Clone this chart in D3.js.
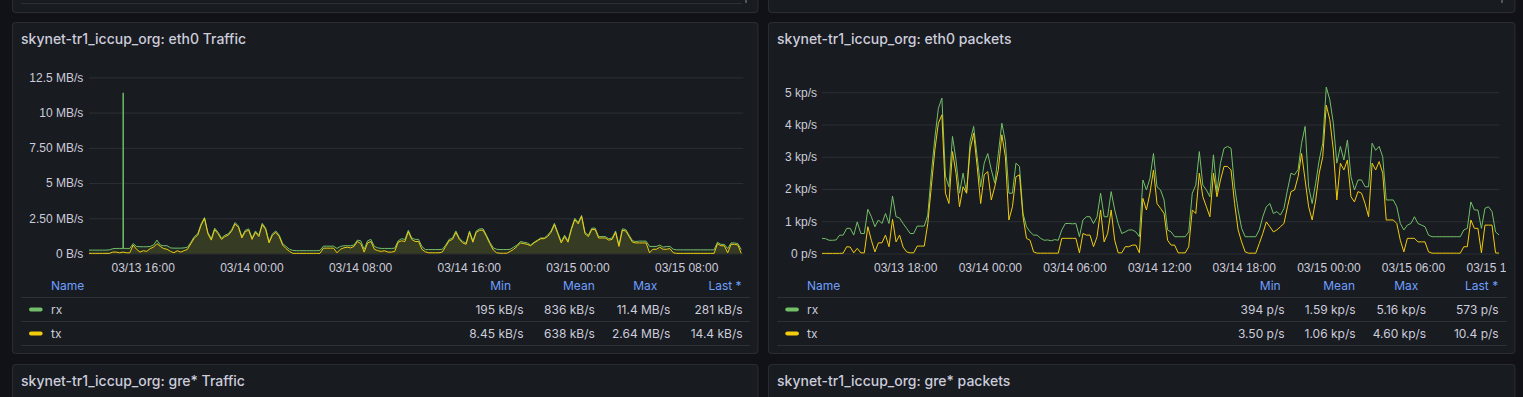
<!DOCTYPE html>
<html><head><meta charset="utf-8">
<script src="https://cdn.jsdelivr.net/npm/d3@7"></script>
<style>
html,body{margin:0;padding:0;background:#111217;overflow:hidden;}
svg{display:block;font-family:Inter,"Noto Sans",sans-serif;}
</style></head><body>
<svg id="c" width="1523" height="397"></svg>
<script>
// ---------------- DATA ----------------
const STEP_MIN = 15;
const trafficStart = "2024-03-13T12:03:00Z";
const packetsStart = "2024-03-13T12:06:00Z";
const trafficDomain = ["2024-03-13T12:03:00Z", "2024-03-15T12:12:00Z"];
const packetsDomain = ["2024-03-13T12:06:00Z", "2024-03-15T12:07:00Z"];

// eth0 Traffic, MB/s, one value every 15 minutes
const trafficRx = [
0.24,0.24,0.24,0.24,0.24,0.24,0.26,0.34,0.36,0.36,
0.36,0.36,0.36,0.7,0.5,0.48,0.48,0.48,0.5,0.6,
0.95,0.6,0.55,0.55,0.4,0.38,0.38,0.38,0.4,0.45,
0.8,1.2,1.4,2.1,2.55,1.5,1.05,1.8,1.5,1.1,
1.3,1.4,1.7,2.2,1.95,1.2,1.65,1.75,1.1,1.6,
1.3,2.14,1.8,0.85,1.4,1.6,1.3,0.7,0.5,0.3,
0.22,0.2,0.2,0.2,0.2,0.2,0.2,0.2,0.22,0.52,
0.52,0.52,0.52,0.36,0.5,0.55,0.55,0.55,0.6,0.95,
0.9,0.3,0.9,1.0,0.5,0.4,0.36,0.36,0.36,0.36,
0.38,0.9,1.05,1.0,1.65,1.1,1.0,1.0,0.5,0.28,
0.28,0.28,0.28,0.28,0.3,0.6,1.0,1.1,1.6,1.1,
0.85,0.75,1.6,0.9,1.6,1.75,1.75,1.3,0.8,0.4,
0.3,0.28,0.28,0.28,0.3,0.45,0.6,0.85,0.8,0.75,
0.6,0.8,0.95,1.1,1.1,1.3,1.6,2.14,1.5,0.85,
1.3,0.9,1.8,2.5,2.2,2.7,1.5,1.3,1.8,1.8,
1.2,1.2,1.2,1.05,1.1,1.6,0.6,1.75,1.7,1.3,
0.9,0.85,0.88,0.88,0.88,0.5,0.5,0.5,0.6,0.45,
0.5,0.5,0.3,0.26,0.26,0.26,0.26,0.26,0.26,0.26,
0.26,0.26,0.26,0.26,0.26,0.8,0.65,0.65,0.35,0.75,
0.75,0.7,0.281];
// short burst on rx: [minutes after start, MB/s]
const trafficRxBurst = [[151, 11.4], [152, 0.36]];
const trafficTx = [
0.01,0.01,0.01,0.01,0.01,0.01,0.01,0.1,0.1,0.05,
0.1,0.05,0.05,0.6,0.3,0.1,0.2,0.15,0.35,0.45,
0.7,0.5,0.35,0.3,0.15,0.05,0.2,0.1,0.2,0.3,
0.7,1.1,1.3,2.0,2.5,1.4,0.95,1.7,1.4,1.0,
1.2,1.3,1.6,2.1,1.85,1.1,1.55,1.65,1.0,1.5,
1.2,2.05,1.7,0.75,1.3,1.5,1.2,0.6,0.35,0.15,
0.01,0.01,0.01,0.01,0.01,0.01,0.01,0.01,0.01,0.38,
0.38,0.38,0.38,0.05,0.3,0.4,0.45,0.4,0.5,0.85,
0.7,0.1,0.75,0.85,0.3,0.2,0.15,0.2,0.1,0.1,
0.15,0.8,0.9,0.85,1.55,1.0,0.85,0.85,0.3,0.12,
0.05,0.05,0.05,0.05,0.1,0.5,0.9,1.0,1.5,1.0,
0.75,0.65,1.5,0.8,1.5,1.65,1.65,1.2,0.7,0.25,
0.05,0.02,0.02,0.02,0.15,0.3,0.5,0.75,0.7,0.65,
0.55,0.75,0.9,1.05,1.05,1.2,1.5,2.05,1.4,0.75,
1.2,0.8,1.7,2.4,2.1,2.64,1.4,1.2,1.7,1.7,
1.1,1.1,1.1,0.95,1.0,1.5,0.5,1.65,1.6,1.2,
0.8,0.75,0.75,0.75,0.75,0.05,0.3,0.3,0.45,0.3,
0.3,0.35,0.05,0.01,0.01,0.01,0.01,0.01,0.01,0.01,
0.01,0.01,0.01,0.01,0.01,0.7,0.55,0.55,0.05,0.65,
0.65,0.6,0.0144];

// eth0 packets, kp/s, one value every 15 minutes
const packetsRx = [
0.47,0.46,0.41,0.41,0.42,0.57,0.57,0.78,0.78,0.57,
0.98,0.62,0.62,1.37,1.14,0.83,1.04,0.93,1.24,0.93,
1.78,1.14,1.1,0.93,0.78,0.62,0.62,0.85,0.85,0.85,
1.19,2.49,3.58,4.5,4.82,2.4,2.07,3.63,2.9,1.87,
2.49,1.87,3.47,3.94,3.0,2.07,2.8,3.1,2.6,2.18,
3.1,4.04,3.47,1.87,1.87,2.8,2.7,1.24,0.83,0.67,
0.57,0.57,0.47,0.41,0.42,0.394,0.43,0.41,0.73,0.93,
0.93,0.92,0.93,0.52,1.04,1.14,1.14,0.93,1.14,1.87,
1.14,1.14,1.92,1.35,0.93,0.62,0.67,0.73,0.73,0.67,
0.52,2.28,1.97,2.33,3.1,2.07,1.97,1.66,0.73,0.67,
0.52,0.52,0.52,0.52,0.67,1.87,2.12,3.16,2.12,1.97,
1.76,3.06,1.92,2.8,3.26,3.32,3.26,2.07,1.35,0.78,
0.52,0.52,0.52,0.52,0.73,1.14,1.45,1.55,1.24,1.3,
1.19,1.4,1.97,2.49,2.44,2.6,3.42,3.94,2.07,1.55,
2.18,2.9,3.42,5.16,4.77,4.04,2.8,3.32,2.9,3.52,
2.38,1.97,2.28,2.28,2.07,2.07,3.42,3.2,3.32,3.0,
1.66,1.66,1.66,1.45,0.93,0.73,0.88,0.93,1.14,0.93,
0.88,0.83,0.57,0.52,0.52,0.52,0.52,0.52,0.52,0.52,
0.52,0.52,0.73,0.78,1.6,1.35,1.35,0.78,1.4,1.45,
1.3,0.67,0.573];
const packetsTx = [
0.004,0.004,0.004,0.004,0.004,0.004,0.01,0.21,0.2,0.02,
0.16,0.02,0.02,0.83,0.41,0.05,0.33,0.33,0.57,0.21,
1.06,0.36,0.57,0.2,0.05,0.02,0.02,0.23,0.23,0.23,
0.93,2.07,3.21,4.04,4.3,1.87,1.55,3.16,2.49,1.45,
2.07,1.87,3.21,3.73,2.7,1.55,2.44,2.54,1.66,2.07,
2.6,3.68,3.0,1.04,1.45,2.38,2.44,1.14,0.47,0.41,
0.05,0.01,0.01,0.01,0.01,0.01,0.01,0.01,0.47,0.47,
0.47,0.47,0.47,0.02,0.62,0.57,0.57,0.21,0.52,1.35,
0.36,0.62,1.35,0.41,0.02,0.02,0.21,0.21,0.26,0.26,
0.02,1.71,1.35,1.87,2.59,1.55,1.4,1.24,0.41,0.26,
0.26,0.02,0.02,0.02,0.21,1.35,1.24,2.49,1.76,1.45,
1.14,2.49,1.76,2.28,2.7,2.7,2.59,1.55,0.73,0.36,
0.05,0.01,0.01,0.01,0.31,0.62,0.98,0.83,0.67,0.73,
0.83,0.93,1.45,1.92,1.97,2.38,3.1,2.28,1.45,1.04,
1.66,2.49,3.0,4.6,4.15,3.21,1.66,2.8,2.59,2.9,
1.76,1.6,1.92,1.87,1.55,1.14,2.8,2.59,2.85,2.49,
1.04,1.04,1.04,0.93,0.41,0.05,0.47,0.47,0.47,0.36,
0.36,0.36,0.05,0.01,0.01,0.01,0.01,0.01,0.01,0.01,
0.01,0.01,0.21,0.21,1.04,0.78,0.78,0.02,0.88,0.88,
0.88,0.02,0.0104];

// axis ticks
const trafficYTicks = [0, 2.5, 5, 7.5, 10, 12.5];
const trafficYLabels = ["0 B/s", "2.50 MB/s", "5 MB/s", "7.50 MB/s", "10 MB/s", "12.5 MB/s"];
const packetsYTicks = [0, 1, 2, 3, 4, 5];
const packetsYLabels = ["0 p/s", "1 kp/s", "2 kp/s", "3 kp/s", "4 kp/s", "5 kp/s"];

// legend
const seriesNames = ["rx", "tx"];
const statHeaders = ["Min", "Mean", "Max", "Last *"];
const trafficStatsRx = ["195 kB/s", "836 kB/s", "11.4 MB/s", "281 kB/s"];
const trafficStatsTx = ["8.45 kB/s", "638 kB/s", "2.64 MB/s", "14.4 kB/s"];
const packetsStatsRx = ["394 p/s", "1.59 kp/s", "5.16 kp/s", "573 p/s"];
const packetsStatsTx = ["3.50 p/s", "1.06 kp/s", "4.60 kp/s", "10.4 p/s"];

const titles = ["skynet-tr1_iccup_org: eth0 Traffic", "skynet-tr1_iccup_org: eth0 packets",
                "skynet-tr1_iccup_org: gre* Traffic", "skynet-tr1_iccup_org: gre* packets"];

// ---------------- DRAW ----------------
const W = 1523, H = 397;
const C = {bg:"#111217", panel:"#181b1f", border:"rgba(204,204,220,0.12)", grid:"rgba(240,250,255,0.09)",
           text:"#ccccdc", link:"#6e9fff", rx:"#73bf69", tx:"#f2cc0c"};
const svg = d3.select("#c");
const defs = svg.append("defs");
svg.append("rect").attr("width", W).attr("height", H).attr("fill", C.bg);

function panel(x, y, w, h) {
  svg.append("rect").attr("x", x).attr("y", y).attr("width", w).attr("height", h).attr("rx", 3)
    .attr("fill", C.panel).attr("stroke", C.border);
}
panel(12.5, -30, 745.5, 42.5);
panel(768.5, -30, 746.5, 42.5);
panel(12.5, 22.5, 745.5, 331);
panel(768.5, 22.5, 746.5, 331);
panel(12.5, 364.5, 745.5, 60);
panel(768.5, 364.5, 746.5, 60);
// remnants of the panels above (legend separator, scrollbar thumbs)
svg.append("line").attr("x1", 21).attr("x2", 742).attr("y1", 3.5).attr("y2", 3.5).attr("stroke", C.border);
svg.append("rect").attr("x", 745).attr("y", 0).attr("width", 2).attr("height", 3).attr("fill", "#55565d");
svg.append("rect").attr("x", 1501).attr("y", 0).attr("width", 2).attr("height", 3).attr("fill", "#55565d");

[[21, 39], [777, 39], [21, 381], [777, 381]].forEach(([x, y], i) => {
  svg.append("text").attr("x", x).attr("y", y).attr("dy", "0.35em")
    .attr("font-size", 14).attr("font-weight", 500).attr("fill", C.text).text(titles[i]);
});

function series(start, vals, extra) {
  const t0 = new Date(start).getTime();
  const pts = vals.map((v, i) => ({t: new Date(t0 + i * STEP_MIN * 60000), v}));
  (extra || []).forEach(([m, v]) => pts.push({t: new Date(t0 + m * 60000), v}));
  pts.sort((a, b) => a.t - b.t);
  return pts;
}

function chart(cfg) {
  const x = d3.scaleUtc().domain(cfg.domain.map(d => new Date(d))).range([cfg.x0, cfg.x1]);
  const y = d3.scaleLinear().domain([0, cfg.yMax]).range([253.5, 70]);
  const g = svg.append("g");

  const ya = g.append("g").attr("transform", `translate(${cfg.x0},0)`)
    .call(d3.axisLeft(y).tickValues(cfg.yTicks).tickFormat((d, i) => cfg.yLabels[i])
      .tickSize(-(cfg.x1 - cfg.x0)).tickPadding(cfg.yPad));
  ya.select(".domain").remove();
  ya.selectAll("line").attr("stroke", C.grid);
  ya.selectAll("text").attr("fill", C.text).attr("font-size", 12).attr("font-family", null);

  const cid = "xc" + cfg.id;
  defs.append("clipPath").attr("id", cid).append("rect")
    .attr("x", 0).attr("y", 0).attr("width", cfg.labelClip).attr("height", H);
  const xa = g.append("g").attr("transform", "translate(0,253.5)").attr("clip-path", `url(#${cid})`)
    .call(d3.axisBottom(x).ticks(d3.utcHour.every(cfg.hourStep)).tickFormat(d3.utcFormat("%m/%d %H:%M"))
      .tickSize(-183.5));
  xa.select(".domain").remove();
  xa.selectAll("line").attr("stroke", C.grid);
  xa.selectAll("text").attr("fill", C.text).attr("font-size", 12).attr("font-family", null)
    .attr("y", 14.8).attr("dy", "0.32em");

  const pid = "pc" + cfg.id;
  defs.append("clipPath").attr("id", pid).append("rect")
    .attr("x", cfg.x0).attr("y", 60).attr("width", cfg.x1 - cfg.x0).attr("height", 195);
  const pg = g.append("g").attr("clip-path", `url(#${pid})`);
  cfg.series.forEach(s => {
    if (cfg.fill) {
      pg.append("path").datum(s.pts)
        .attr("d", d3.area().x(d => x(d.t)).y0(y(0)).y1(d => y(d.v)))
        .attr("fill", s.color).attr("fill-opacity", cfg.fill);
    }
  });
  cfg.series.forEach(s => {
    pg.append("path").datum(s.pts)
      .attr("d", d3.line().x(d => x(d.t)).y(d => y(d.v)))
      .attr("fill", "none").attr("stroke", s.color).attr("stroke-width", 1).attr("stroke-linejoin", "round");
  });
}

chart({id: 1, domain: trafficDomain, x0: 89, x1: 743.3, yMax: 13.02, yTicks: trafficYTicks, yLabels: trafficYLabels,
  yPad: 5.7, hourStep: 8, labelClip: 757, fill: 0.1,
  series: [{pts: series(trafficStart, trafficRx, trafficRxBurst), color: C.rx},
           {pts: series(trafficStart, trafficTx), color: C.tx}]});
chart({id: 2, domain: packetsDomain, x0: 822, x1: 1499.3, yMax: 5.69, yTicks: packetsYTicks, yLabels: packetsYLabels,
  yPad: 5, hourStep: 6, labelClip: 1506, fill: 0,
  series: [{pts: series(packetsStart, packetsRx), color: C.rx},
           {pts: series(packetsStart, packetsTx), color: C.tx}]});

function legend(cfg) {
  const g = svg.append("g").attr("font-size", 12);
  g.append("text").attr("x", cfg.nameX).attr("y", 285.7).attr("dy", "0.35em").attr("fill", C.link).text("Name");
  statHeaders.forEach((h, i) => g.append("text").attr("x", cfg.headX[i]).attr("y", 285.7).attr("dy", "0.35em")
    .attr("text-anchor", "end").attr("fill", C.link).text(h));
  [297.5, 321.5, 345.5].forEach(yy => g.append("line").attr("x1", cfg.sep[0]).attr("x2", cfg.sep[1])
    .attr("y1", yy).attr("y2", yy).attr("stroke", C.border));
  const rows = [{name: seriesNames[0], color: C.rx, stats: cfg.stats[0], y: 309.6},
                {name: seriesNames[1], color: C.tx, stats: cfg.stats[1], y: 333.5}];
  rows.forEach(r => {
    g.append("rect").attr("x", cfg.swX).attr("y", r.y - 2).attr("width", 13.6).attr("height", 4).attr("rx", 2).attr("fill", r.color);
    g.append("text").attr("x", cfg.nameX).attr("y", r.y).attr("dy", "0.35em").attr("fill", C.text).text(r.name);
    r.stats.forEach((s, i) => g.append("text").attr("x", cfg.valX[i]).attr("y", r.y).attr("dy", "0.35em")
      .attr("text-anchor", "end").attr("fill", C.text).text(s));
  });
}
legend({nameX: 51, swX: 29, sep: [21, 750], headX: [511, 594.8, 657.3, 741.6], valX: [523.5, 594.8, 670.4, 742.6],
  stats: [trafficStatsRx, trafficStatsTx]});
legend({nameX: 807, swX: 785.3, sep: [777, 1507], headX: [1280.7, 1355, 1418.4, 1498.2], valX: [1284.6, 1355.6, 1426.2, 1498.7],
  stats: [packetsStatsRx, packetsStatsTx]});
</script>
</body></html>
